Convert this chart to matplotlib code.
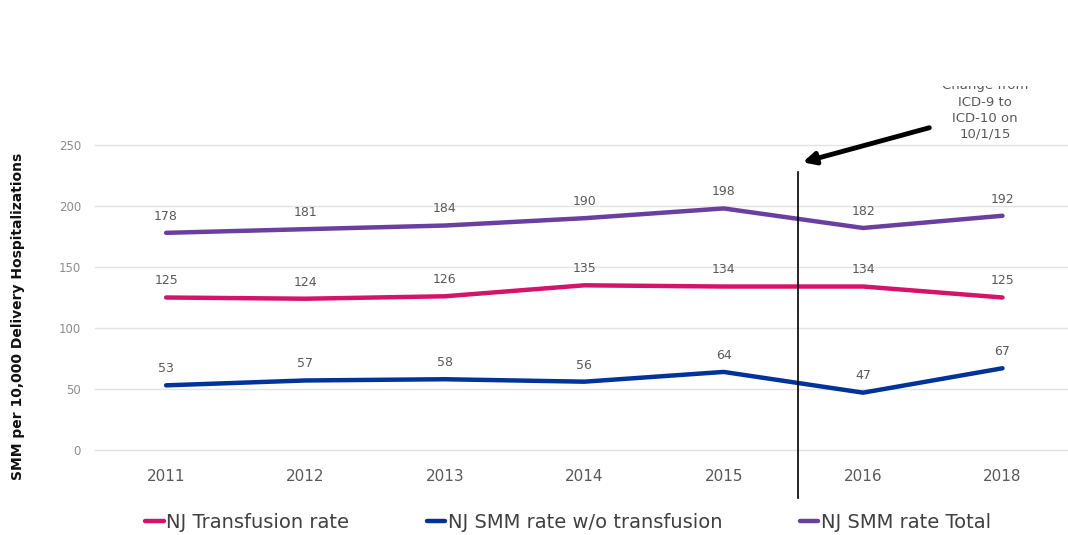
import matplotlib.pyplot as plt
from matplotlib.patches import Rectangle

years = ["2011", "2012", "2013", "2014", "2015", "2016", "2018"]
transfusion = [125, 124, 126, 135, 134, 134, 125]
smm_wo_transfusion = [53, 57, 58, 56, 64, 47, 67]
smm_total = [178, 181, 184, 190, 198, 182, 192]

series = [
    ("NJ Transfusion rate", transfusion, "#D3146A"),
    ("NJ SMM rate w/o transfusion", smm_wo_transfusion, "#003399"),
    ("NJ SMM rate Total", smm_total, "#6A3FA0"),
]

W, H = 1068, 535
fig = plt.figure(figsize=(W / 100, H / 100), dpi=100)
ax = fig.add_axes([95 / W, 1 - 450 / H, 1 - 95 / W, (450 - 145) / H])

x = list(range(len(years)))
handles = []
for name, vals, col in series:
    h, = ax.plot(x, vals, color=col, lw=3.2, solid_capstyle="round", label=name, zorder=3)
    handles.append(h)
    for xi, v in zip(x, vals):
        ax.annotate(str(v), (xi, v), xytext=(0, 12), textcoords="offset points",
                    ha="center", va="center", fontsize=9, color="#595959")

ax.set_xlim(-0.51, 6.47)
ax.set_ylim(0, 250)
ax.set_yticks(range(0, 251, 50))
ax.set_xticks(x)
ax.set_xticklabels(years)
ax.grid(axis="y", color="#E3E3E3", lw=1, clip_on=False)
ax.set_axisbelow(True)
for s in ax.spines.values():
    s.set_visible(False)
ax.tick_params(axis="x", length=0, pad=14, labelsize=11, labelcolor="#595959")
ax.tick_params(axis="y", length=0, pad=10, labelsize=8.5, labelcolor="#8C8C8C")

fig.text(18 / W, 1 - 316 / H, "SMM per 10,000 Delivery Hospitalizations", rotation=90,
         ha="center", va="center", fontsize=10, fontweight="bold", color="#111111")

# ICD-9 -> ICD-10 change marker
change_x = 4.53
ax.plot([change_x, change_x], [228, -39], color="black", lw=1.2, clip_on=False, zorder=4)
ax.annotate("", xy=(800 / W, 1 - 163 / H), xycoords="figure fraction",
            xytext=(932 / W, 1 - 127 / H), textcoords="figure fraction",
            arrowprops=dict(arrowstyle="-|>", color="black", lw=3.5, mutation_scale=18))
fig.text(985 / W, 1 - 110 / H, "Change from\nICD-9 to\nICD-10 on\n10/1/15", ha="center",
         va="center", fontsize=9.5, color="#595959", linespacing=1.3)
# top line of the note is cut off in the original slide
fig.patches.append(Rectangle((0.7, 1 - 86 / H), 0.3, 86 / H, transform=fig.transFigure,
                             facecolor="white", edgecolor="none", zorder=10))

fig.legend(handles=handles, loc="center", bbox_to_anchor=(568 / W, 1 - 522 / H), ncol=3,
           frameon=False, fontsize=14, handlelength=0.95, handletextpad=0.12,
           columnspacing=4.0, labelcolor="#404040")

fig.savefig("out.png", dpi=100)
